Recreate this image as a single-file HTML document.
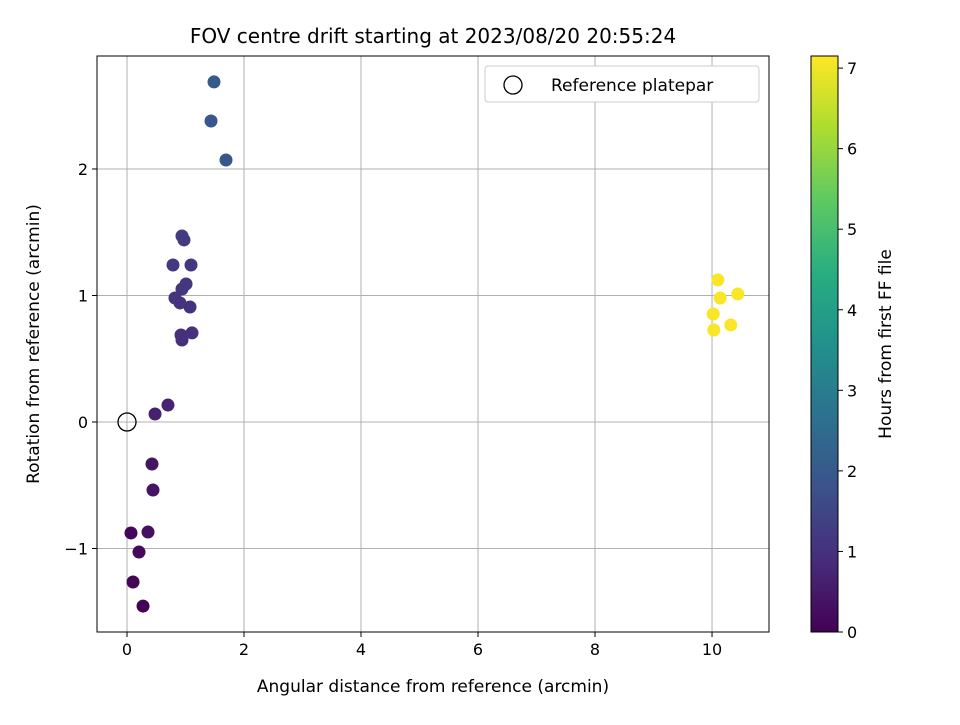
<!DOCTYPE html>
<html><head><meta charset="utf-8"><style>
body{margin:0;background:#fff;}
svg text{font-family:"DejaVu Sans","Liberation Sans",sans-serif;fill:#000;}
</style></head><body>
<svg id="chart" width="960" height="720" xmlns="http://www.w3.org/2000/svg">
<defs><linearGradient id="vir" x1="0" y1="1" x2="0" y2="0">
<stop offset="0" stop-color="#440154"/><stop offset="0.125" stop-color="#472d7b"/><stop offset="0.25" stop-color="#3b528b"/><stop offset="0.375" stop-color="#2c728e"/><stop offset="0.5" stop-color="#21918c"/><stop offset="0.625" stop-color="#28ae80"/><stop offset="0.75" stop-color="#5ec962"/><stop offset="0.875" stop-color="#addc30"/><stop offset="1" stop-color="#fde725"/></linearGradient></defs>
<text x="433" y="43" font-size="20" text-anchor="middle">FOV centre drift starting at 2023/08/20 20:55:24</text>
<g id="grid"></g><g id="pts"></g><g id="axes"></g>
</svg>
<script>
const xs=[1.487,1.436,1.692,0.94,0.974,0.786,1.094,1.009,0.94,0.82,0.906,1.077,0.923,1.111,0.94,0.70,0.479,0.427,0.444,0.068,0.359,0.205,0.103,0.274,10.10,10.14,10.44,10.02,10.32,10.03];
const ys=[2.688,2.379,2.071,1.47,1.439,1.241,1.241,1.091,1.051,0.98,0.941,0.909,0.688,0.704,0.648,0.134,0.063,-0.332,-0.538,-0.877,-0.870,-1.028,-1.265,-1.455,1.123,0.98,1.012,0.854,0.767,0.727];
const hrs=[2.0,1.95,1.9,1.25,1.22,1.18,1.15,1.12,1.1,1.08,1.05,1.02,1.0,0.98,0.95,0.7,0.65,0.4,0.38,0.1,0.3,0.15,0.08,0.05,7.1,7.1,7.1,7.1,7.1,7.1];
const xTicks=[0,2,4,6,8,10], yTicks=[-1,0,1,2], cTicks=[0,1,2,3,4,5,6,7];
const L=97,R=769,T=56,B=632,xmin=-0.513,xmax=10.974,ymin=-1.66,ymax=2.893,cmax=7.15;
const X=v=>L+(v-xmin)/(xmax-xmin)*(R-L), Y=v=>B-(v-ymin)/(ymax-ymin)*(B-T);
const CY=v=>632-v/cmax*576;
const stops=["#440154","#472d7b","#3b528b","#2c728e","#21918c","#28ae80","#5ec962","#addc30","#fde725"].map(h=>[1,3,5].map(i=>parseInt(h.substr(i,2),16)));
function vir(t){t=Math.max(0,Math.min(1,t))*8;const i=Math.min(7,Math.floor(t)),f=t-i;return`rgb(${stops[i].map((c,k)=>Math.round(c+(stops[i+1][k]-c)*f)).join(',')})`;}
const NS="http://www.w3.org/2000/svg";
function el(p,tag,a,txt){const e=document.createElementNS(NS,tag);for(const k in a)e.setAttribute(k,a[k]);if(txt!==undefined)e.textContent=txt;p.appendChild(e);return e;}
const g=document.getElementById('grid'),pg=document.getElementById('pts'),ax=document.getElementById('axes');
xTicks.forEach(v=>{const x=X(v);
const l=el(g,'line',{x1:x,x2:x,y1:T,y2:B,stroke:'#b0b0b0','stroke-width':1});

el(ax,'line',{x1:x,x2:x,y1:B,y2:B+5,stroke:'#000'});
const t=el(ax,'text',{x:x,y:B+23,'font-size':16,'text-anchor':'middle'},String(v));
});
yTicks.forEach(v=>{const y=Y(v);
const l=el(g,'line',{x1:L,x2:R,y1:y,y2:y,stroke:'#b0b0b0','stroke-width':1});

el(ax,'line',{x1:L-5,x2:L,y1:y,y2:y,stroke:'#000'});
const t=el(ax,'text',{x:L-9,y:y+6,'font-size':16,'text-anchor':'end'},v<0?'\u2212'+(-v):String(v));
});
xs.forEach((v,i)=>{const c=el(pg,'circle',{cx:X(v),cy:Y(ys[i]),r:6.5,fill:vir(hrs[i]/cmax)});
});
const ref=el(pg,'circle',{cx:X(0),cy:Y(0),r:9,fill:'none',stroke:'#000','stroke-width':1.3});

const fr=el(ax,'rect',{x:L,y:T,width:R-L,height:B-T,fill:'none',stroke:'#000','stroke-width':1});

const xl=el(ax,'text',{x:433,y:692,'font-size':17,'text-anchor':'middle'},'Angular distance from reference (arcmin)');

const yl=el(ax,'text',{x:0,y:0,'font-size':17,'text-anchor':'middle',transform:'translate(39,344) rotate(-90)'},'Rotation from reference (arcmin)');

const lg=el(ax,'g',{});
el(lg,'rect',{x:485,y:66,width:274,height:36,rx:3,fill:'#fff',stroke:'#ccc'});
el(lg,'circle',{cx:513,cy:85,r:9,fill:'none',stroke:'#000','stroke-width':1.3});
el(lg,'text',{x:551,y:91,'font-size':17},'Reference platepar');
const cb=el(ax,'rect',{x:811,y:56,width:27,height:576,fill:'url(#vir)',stroke:'#000','stroke-width':1});

cTicks.forEach(v=>{const y=CY(v);el(ax,'line',{x1:838,x2:843,y1:y,y2:y,stroke:'#000'});
const t=el(ax,'text',{x:847,y:y+6,'font-size':16},String(v));
});
const cl=el(ax,'text',{x:0,y:0,'font-size':17,'text-anchor':'middle',transform:'translate(891,344) rotate(-90)'},'Hours from first FF file');

</script>
</body></html>
